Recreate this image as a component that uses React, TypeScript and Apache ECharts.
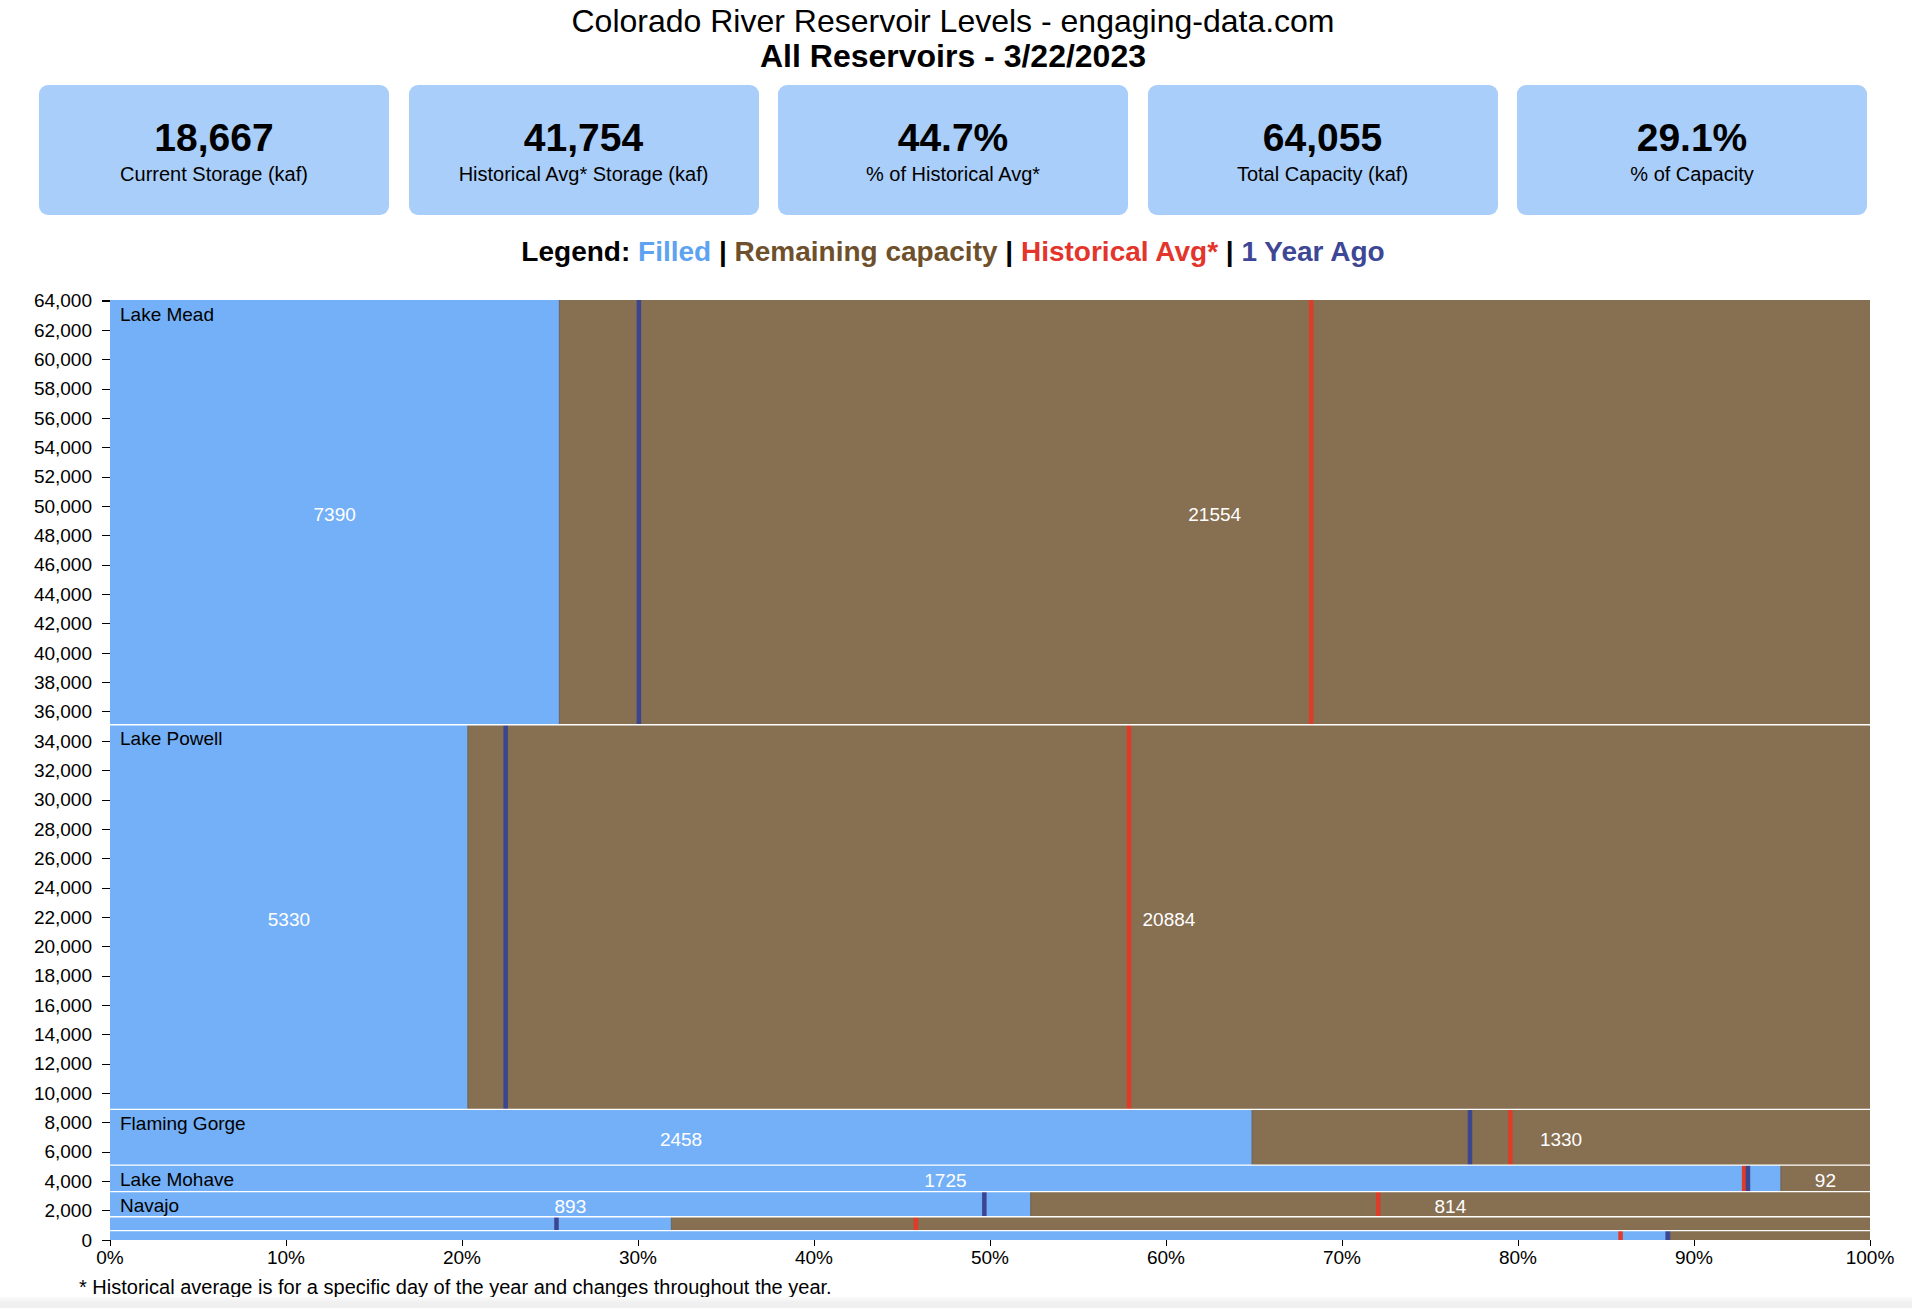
import React, { useEffect, useRef } from 'react';
import * as echarts from 'echarts';

// reservoirs from top of the stack to the bottom (kaf)
const reservoirs = ['Lake Mead', 'Lake Powell', 'Flaming Gorge', 'Lake Mohave', 'Navajo', 'Blue Mesa', 'Lake Havasu'];
const filled = [7390, 5330, 2458, 1725, 893, 303, 563];
const remaining = [21554, 20884, 1330, 92, 814, 647, 72];
const histAvg = [19754, 15178, 3014, 1687, 1230, 435, 545];
const yearAgo = [8698, 5893, 2927, 1691, 848, 241, 562];

const cardValues = ['18,667', '41,754', '44.7%', '64,055', '29.1%'];
const cardLabels = [
  'Current Storage (kaf)',
  'Historical Avg* Storage (kaf)',
  '% of Historical Avg*',
  'Total Capacity (kaf)',
  '% of Capacity',
];

const FONT = '"Liberation Sans", Arial, Helvetica, sans-serif';
const BLUE = '#74b0f7';
const BROWN = '#876f51';
const RED = '#de3b28';
const NAVY = '#3b4590';

const capacity = filled.map((f, i) => f + remaining[i]);
const totalCap = capacity.reduce((a, b) => a + b, 0);

const Chart = () => {
  const chartRef = useRef<HTMLDivElement>(null);

  useEffect(() => {
    if (!chartRef.current) return;
    const myChart = echarts.init(chartRef.current, null, { renderer: 'svg' });

    const renderItem = (params: any, api: any) => {
      const i = api.value(0);
      const cap = capacity[i];
      let above = 0;
      for (let k = 0; k < i; k++) above += capacity[k];
      const top = totalCap - above;
      const bottom = top - cap;
      const [x0, y0] = api.coord([0, top]);
      const [x1, y1] = api.coord([100, bottom]);
      const xf = api.coord([(filled[i] / cap) * 100, bottom])[0];
      const xh = api.coord([(histAvg[i] / cap) * 100, bottom])[0];
      const xy = api.coord([(yearAgo[i] / cap) * 100, bottom])[0];
      const h = y1 - y0;
      const children: any[] = [
        { type: 'rect', shape: { x: x0, y: y0, width: xf - x0, height: h }, style: { fill: BLUE } },
        { type: 'rect', shape: { x: xf, y: y0, width: x1 - xf, height: h }, style: { fill: BROWN } },
        { type: 'line', shape: { x1: xf, y1: y0, x2: xf, y2: y1 }, style: { stroke: '#6a6257', lineWidth: 1 } },
        { type: 'rect', shape: { x: xh - 2.25, y: y0, width: 4.5, height: h }, style: { fill: RED } },
        { type: 'rect', shape: { x: xy - 2.25, y: y0, width: 4.5, height: h }, style: { fill: NAVY } },
      ];
      if (i > 0) {
        children.push({
          type: 'line',
          shape: { x1: x0, y1: y0, x2: x1, y2: y0 },
          style: { stroke: '#ffffff', lineWidth: 1.3 },
        });
      }
      // only bands tall enough get their name and values
      if (h >= 18) {
        children.push({
          type: 'text',
          style: {
            x: x0 + 10, y: y0 + 14, text: reservoirs[i], fill: '#000',
            font: `19px ${FONT}`, align: 'left', verticalAlign: 'middle',
          },
        });
        children.push({
          type: 'text',
          style: {
            x: (x0 + xf) / 2, y: (y0 + y1) / 2 + 2, text: String(filled[i]), fill: '#fff',
            font: `19px ${FONT}`, align: 'center', verticalAlign: 'middle',
          },
        });
        children.push({
          type: 'text',
          style: {
            x: (xf + x1) / 2, y: (y0 + y1) / 2 + 2, text: String(remaining[i]), fill: '#fff',
            font: `19px ${FONT}`, align: 'center', verticalAlign: 'middle',
          },
        });
      }
      return { type: 'group', children };
    };

    const option: any = {
      animation: false,
      grid: { left: 110, right: 42, top: 30, height: 940 },
      xAxis: {
        type: 'value',
        min: 0,
        max: 100,
        interval: 10,
        axisLine: { show: false },
        axisTick: { show: true, length: 6, lineStyle: { color: '#000', width: 1 } },
        axisLabel: { formatter: '{value}%', color: '#000', fontSize: 19, fontFamily: FONT, margin: 8 },
        splitLine: { show: false },
      },
      yAxis: {
        type: 'value',
        min: 0,
        max: totalCap,
        interval: 2000,
        axisLine: { show: false },
        axisTick: { show: true, length: 8, lineStyle: { color: '#000', width: 1 } },
        axisLabel: {
          color: '#000',
          fontSize: 19,
          fontFamily: FONT,
          margin: 18,
          formatter: (v: number) => (v % 2000 === 0 ? v.toLocaleString('en-US') : ''),
        },
        splitLine: { show: false },
      },
      series: [
        {
          type: 'custom',
          renderItem,
          data: reservoirs.map((_, i) => [i, 0]),
          clip: false,
        },
      ],
    };

    myChart.setOption(option);
    return () => {
      myChart.dispose();
    };
  }, []);

  return (
    <div
      ref={chartRef}
      style={{ position: 'absolute', left: 0, top: 270, width: 1912, height: 1010 }}
    />
  );
};

const App = () => {
  return (
    <div
      style={{
        position: 'absolute', left: 0, top: 0, width: 1912, height: 1308,
        background: '#fff', overflow: 'hidden', fontFamily: FONT, color: '#000',
      }}
    >
      <div style={{ position: 'absolute', top: 5, left: 0, width: 1906, textAlign: 'center', fontSize: 32, lineHeight: '32px' }}>
        Colorado River Reservoir Levels - engaging-data.com
      </div>
      <div style={{ position: 'absolute', top: 40, left: 0, width: 1906, textAlign: 'center', fontSize: 32, lineHeight: '32px', fontWeight: 'bold' }}>
        All Reservoirs - 3/22/2023
      </div>

      {cardValues.map((v, i) => (
        <div
          key={i}
          style={{
            position: 'absolute', top: 85, left: 39 + i * 369.5, width: 350, height: 130,
            background: '#a9cef9', borderRadius: 9, textAlign: 'center',
          }}
        >
          <div style={{ position: 'absolute', top: 33, left: 0, width: '100%', fontSize: 39, lineHeight: '39px', fontWeight: 'bold' }}>
            {v}
          </div>
          <div style={{ position: 'absolute', top: 79, left: 0, width: '100%', fontSize: 20, lineHeight: '20px' }}>
            {cardLabels[i]}
          </div>
        </div>
      ))}

      <div style={{ position: 'absolute', top: 238, left: 0, width: 1906, textAlign: 'center', fontSize: 28, lineHeight: '28px', fontWeight: 'bold' }}>
        Legend: <span style={{ color: '#5ea3f2' }}>Filled</span> | <span style={{ color: '#6e502c' }}>Remaining capacity</span> |{' '}
        <span style={{ color: '#e3352b' }}>Historical Avg*</span> | <span style={{ color: '#3d4795' }}>1 Year Ago</span>
      </div>

      <Chart />

      <div style={{ position: 'absolute', top: 1277, left: 79, fontSize: 20, lineHeight: '20px', whiteSpace: 'nowrap' }}>
        * Historical average is for a specific day of the year and changes throughout the year.
      </div>

      <div
        style={{
          position: 'absolute', left: 0, top: 1297, width: 1912, height: 11,
          background: 'linear-gradient(to bottom, #fbfbfb, #f0f0f0 50%, #f0f0f0)',
        }}
      />
    </div>
  );
};

export default App;
